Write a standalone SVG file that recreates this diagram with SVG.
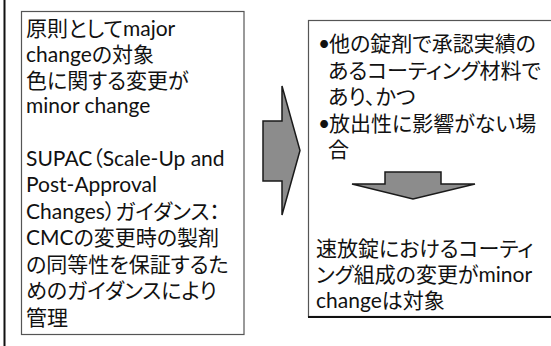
<svg xmlns="http://www.w3.org/2000/svg" width="551" height="346" viewBox="0 0 551 346">
<style>
.t{font-family:Lato,"Noto Sans CJK JP","Noto Sans",sans-serif;font-size:21px;fill:#111;font-feature-settings:"palt" 1;}
.box{fill:#fff;stroke:#555;stroke-width:1.2;}
.arrow{fill:#8c8c8c;stroke:#1a1a1a;stroke-width:1.5;stroke-linejoin:miter;}
</style>
<rect width="551" height="346" fill="#fff"/>
<line x1="4.5" y1="0" x2="4.5" y2="346" stroke="#111" stroke-width="2"/>
<g id="left-box">
<rect class="box" x="21.5" y="11.5" width="222.5" height="323"/>
<text class="t" x="26" y="36">原則としてmajor</text>
<text class="t" x="26" y="62">changeの対象</text>
<text class="t" x="26" y="88">色に関する変更が</text>
<text class="t" x="26" y="113">minor change</text>
<text class="t" x="26" y="165.5">SUPAC（Scale-Up and</text>
<text class="t" x="26" y="192">Post-Approval</text>
<text class="t" x="26" y="218.5">Changes）ガイダンス：</text>
<text class="t" x="26" y="245">CMCの変更時の製剤</text>
<text class="t" x="26" y="271.5">の同等性を保証するた</text>
<text class="t" x="26" y="298">めのガイダンスにより</text>
<text class="t" x="26" y="324.5">管理</text>
</g>
<g id="right-box">
<rect class="box" x="308.5" y="20.5" width="260" height="296"/>
<line x1="308" y1="317" x2="551" y2="317" stroke="#111" stroke-width="2"/>
<text class="t" x="318" y="51">•<tspan x="329">他の錠剤で承認実績の</tspan></text>
<text class="t" x="328" y="77.5">あるコーティング材料で</text>
<text class="t" x="328" y="104">あり、かつ</text>
<text class="t" x="318" y="130.5">•<tspan x="329">放出性に影響がない場</tspan></text>
<text class="t" x="328" y="157">合</text>
<text class="t" x="316" y="256">速放錠におけるコーティ</text>
<text class="t" x="316" y="282">ング組成の変更がminor</text>
<text class="t" x="316" y="308">changeは対象</text>
</g>
<g id="connectors">
<polygon id="arrow-right" class="arrow" points="263,121 282,121 282,86 300,150.5 282,215 282,181 263,181"/>
<polygon id="arrow-down" class="arrow" points="385,172 441,172 441,184 475,184 413,199 352,184 385,184"/>
</g>
</svg>
